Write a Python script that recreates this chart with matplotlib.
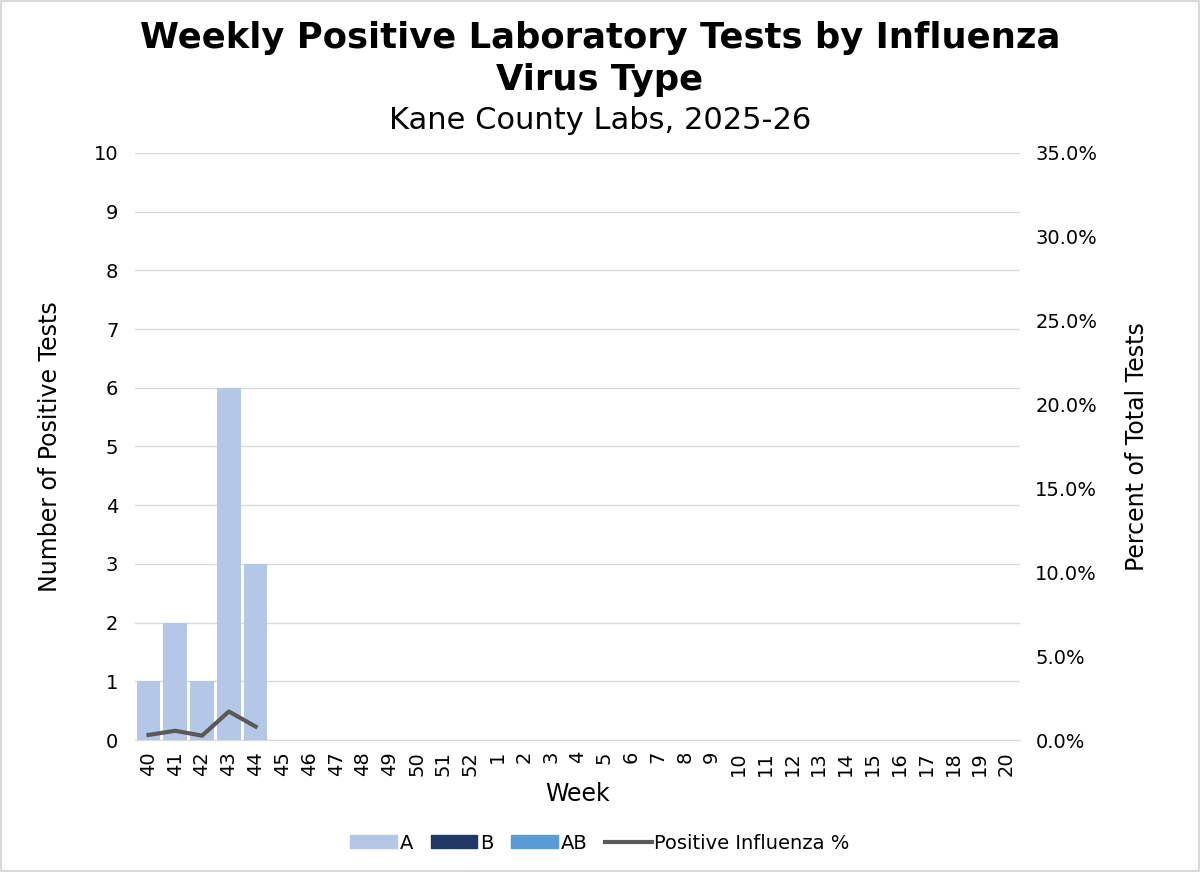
import matplotlib
matplotlib.use("Agg")
import matplotlib.pyplot as plt
from matplotlib.patches import Patch, Rectangle
from matplotlib.lines import Line2D
from matplotlib.ticker import FuncFormatter

weeks = [str(w) for w in list(range(40, 53)) + list(range(1, 21))]
flu_a = [1, 2, 1, 6, 3] + [0] * 28
flu_b = [0] * 33
flu_ab = [0] * 33
pct_positive = [0.3, 0.55, 0.26, 1.7, 0.8]

plt.rcParams['font.family'] = ['DejaVu Sans']

fig = plt.figure(figsize=(12, 8.72), dpi=100)
ax = fig.add_axes([135/1200, 1 - 740/872, 885/1200, 587/872])
ax2 = ax.twinx()

x = list(range(len(weeks)))
bw = 0.88
ax.bar(x, flu_a, width=bw, color='#b4c7e7', zorder=2)
bottom_b = flu_a
ax.bar(x, flu_b, width=bw, bottom=bottom_b, color='#203864', zorder=2)
bottom_ab = [a + b for a, b in zip(flu_a, flu_b)]
ax.bar(x, flu_ab, width=bw, bottom=bottom_ab, color='#5b9bd5', zorder=2)

ax2.plot(x[:len(pct_positive)], pct_positive, color='#595959', lw=3, zorder=3)

ax.set_xlim(-0.5, len(weeks) - 0.5)
ax.set_ylim(0, 10)
ax.set_yticks(range(0, 11))
ax2.set_ylim(0, 35)
ax2.set_yticks([0, 5, 10, 15, 20, 25, 30, 35])
ax2.yaxis.set_major_formatter(FuncFormatter(lambda v, p: f"{v:.1f}%"))

ax.set_xticks(x)
ax.set_xticklabels(weeks, rotation=90, fontsize=14)
ax.tick_params(axis='y', labelsize=14, length=0, pad=12)
ax2.tick_params(axis='y', labelsize=14, length=0, pad=11)
ax.tick_params(axis='x', length=0, pad=8)

ax.grid(axis='y', color='#d9d9d9', lw=1, zorder=0)
ax.set_axisbelow(True)
for sp in ['top', 'right', 'left']:
    ax.spines[sp].set_visible(False)
    ax2.spines[sp].set_visible(False)
ax.spines['bottom'].set_color('#d9d9d9')
ax2.spines['bottom'].set_visible(False)

ax.set_ylabel('Number of Positive Tests', fontsize=17, labelpad=23)
ax2.set_ylabel('Percent of Total Tests', fontsize=17, labelpad=20)
ax.set_xlabel('Week', fontsize=17, labelpad=4)

fig.text(0.5, 1 - 38/872, 'Weekly Positive Laboratory Tests by Influenza', ha='center', va='center',
         fontsize=25.5, fontweight='heavy')
fig.text(0.5, 1 - 80/872, 'Virus Type', ha='center', va='center', fontsize=25.5, fontweight='heavy')
fig.text(0.5, 1 - 120/872, 'Kane County Labs, 2025-26', ha='center', va='center', fontsize=22)

handles = [Patch(color='#b4c7e7', label='A'), Patch(color='#203864', label='B'),
           Patch(color='#5b9bd5', label='AB'),
           Line2D([0], [0], color='#595959', lw=3, label='Positive Influenza %')]
fig.legend(handles=handles, loc='center', bbox_to_anchor=(0.5, 1 - 843/872), ncol=4, frameon=False,
           fontsize=14, handlelength=2.4, handleheight=0.6, columnspacing=0.9, handletextpad=0.15)

fig.patches.append(Rectangle((0.001, 0.001), 0.998, 0.998, transform=fig.transFigure,
                             fill=False, edgecolor='#d9d9d9', lw=1.5))

fig.savefig('out.png', dpi=100, facecolor='white')
